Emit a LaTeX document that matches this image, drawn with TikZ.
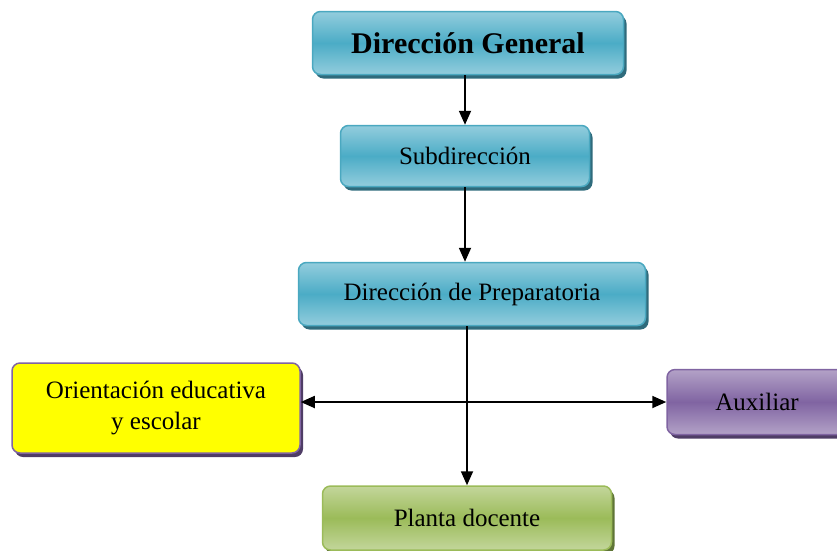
\documentclass[tikz,border=0pt]{standalone}
\usepackage{fontspec}
\setmainfont{Liberation Serif}
\usetikzlibrary{arrows.meta,shadows,positioning}
\definecolor{azulclaro}{HTML}{93CDDD}
\definecolor{azul}{HTML}{4BACC6}
\definecolor{azulborde}{HTML}{4AA8C0}
\definecolor{azulsombra}{HTML}{2F6B7C}
\definecolor{moradoclaro}{HTML}{B3A2C7}
\definecolor{morado}{HTML}{8064A2}
\definecolor{moradosombra}{HTML}{4F3D66}
\definecolor{verdeclaro}{HTML}{C3D69B}
\definecolor{verde}{HTML}{9BBB59}
\definecolor{verdesombra}{HTML}{5F7536}
\definecolor{amarillo}{HTML}{FFFF00}

\begin{document}
\begin{tikzpicture}[x=1pt,y=-1pt]
%
% Styles
%
\tikzset{every node/.style={font=\fontsize{25}{31}\selectfont, align=center}};%
\tikzset{punta/.tip={Triangle[length=14pt,width=12pt]}};%
\tikzset{flecha/.style={-punta, line width=1.8pt}};%
\tikzset{caja/.style={rectangle, rounded corners=8pt, line width=1.5pt, inner sep=2pt}};%
\tikzset{cajaazul/.style={caja, draw=azulborde, top color=azulclaro, bottom color=azulclaro, middle color=azul,
    drop shadow={shadow xshift=3pt, shadow yshift=-4pt, fill=azulsombra, opacity=1}}};%
\tikzset{cajamorada/.style={caja, draw=morado, top color=moradoclaro, bottom color=moradoclaro, middle color=morado,
    drop shadow={shadow xshift=3pt, shadow yshift=-4pt, fill=moradosombra, opacity=1}}};%
\tikzset{cajaamarilla/.style={caja, draw=morado, fill=amarillo,
    drop shadow={shadow xshift=3pt, shadow yshift=-4pt, fill=moradosombra, opacity=1}}};%
\tikzset{cajaverde/.style={caja, draw=verde, top color=verdeclaro, bottom color=verdeclaro, middle color=verde,
    drop shadow={shadow xshift=3pt, shadow yshift=-4pt, fill=verdesombra, opacity=1}}};%

\useasboundingbox (0,0) rectangle (837,550);%

%
% Nodes
%
\node[cajaazul, minimum width=311pt, minimum height=63pt, font=\fontsize{30}{34}\selectfont\bfseries]
  (general) at (468,43) {Dirección General};%
\node[cajaazul, minimum width=249pt, minimum height=61pt] (sub) at (465,156) {Subdirección};%
\node[cajaazul, minimum width=347pt, minimum height=63pt] (prepa) at (472,294) {Dirección de Preparatoria};%
\node[cajaamarilla, minimum width=288pt, minimum height=90pt] (orienta) at (156,408)
  {Orientación educativa\\y escolar};%
\node[cajamorada, minimum width=180pt, minimum height=65pt] (aux) at (757,402) {Auxiliar};%
\node[cajaverde, minimum width=289pt, minimum height=64pt] (planta) at (467,518) {Planta docente};%

%
% Arrows
%
\draw[flecha] (sub.north |- general.south) -- (sub.north);%
\draw[flecha] (sub.south) -- (sub.south |- prepa.north);%
\draw[flecha] (planta.north |- prepa.south) -- (planta.north);%
\draw[punta-punta, line width=1.8pt] (aux.west -| orienta.east) -- (aux.west);%
\end{tikzpicture}
\end{document}
